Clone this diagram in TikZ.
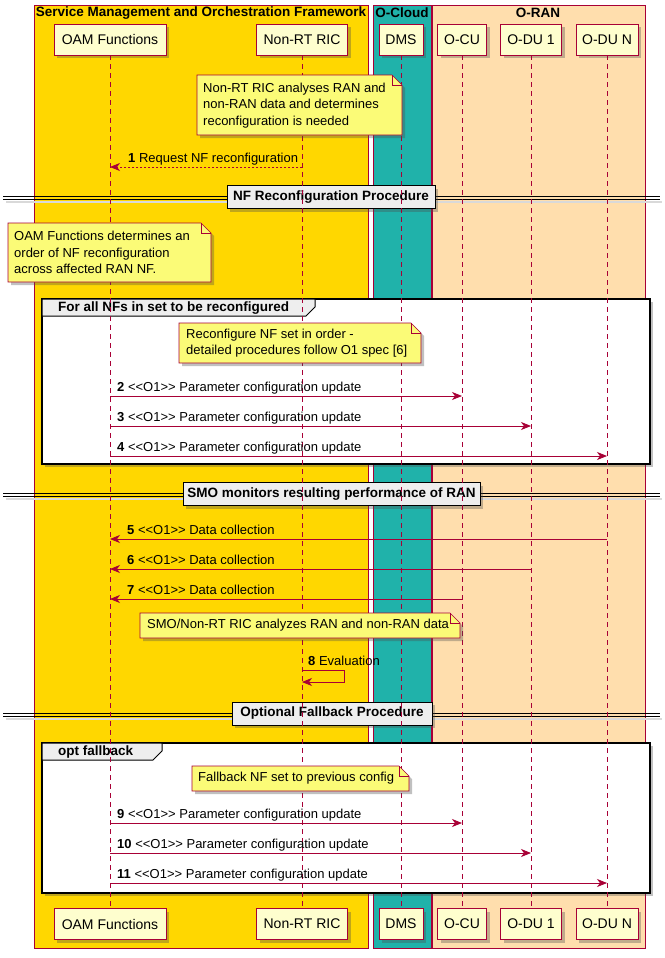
\documentclass[tikz,border=0pt]{standalone}
\usepackage{fontspec}
\setmainfont{Liberation Sans}
\usetikzlibrary{arrows.meta,shadows}
\definecolor{umlred}{HTML}{A80036}
\definecolor{partfill}{HTML}{FEFECE}
\definecolor{notefill}{HTML}{FBFB77}
\definecolor{smofill}{HTML}{FFD700}
\definecolor{cloudfill}{HTML}{20B2AA}
\definecolor{ranfill}{HTML}{FFDEAD}
\definecolor{divfill}{HTML}{EEEEEE}
\newcommand\umlnote[4]{%
 \path[notebody] (#1,#2) -- ({#3-10},#2) -- (#3,{#2+10}) -- (#3,#4) -- (#1,#4) -- cycle;
 \draw[umlred, line width=0.6pt] ({#3-10},#2) -- ({#3-10},{#2+10}) -- (#3,{#2+10});}
\begin{document}
\begin{tikzpicture}[x=1pt,y=-1pt,
 font=\fontsize{13}{16.5}\selectfont,
 shd/.style={drop shadow={shadow xshift=3pt,shadow yshift=-3pt,opacity=0.35,fill=black!70}},
 frame/.style={draw=umlred, line width=0.6pt},
 ttl/.style={font=\fontsize{13.5}{15}\selectfont\bfseries, inner sep=0pt},
 part/.style={draw=umlred, fill=partfill, line width=0.9pt, minimum height=31pt, inner sep=0pt, font=\fontsize{14}{16}\selectfont, shd},
 life/.style={umlred, line width=0.6pt, dash pattern=on 5pt off 4pt},
 notebody/.style={fill=notefill, draw=umlred, line width=0.6pt, shd},
 notetext/.style={anchor=west, align=left, inner sep=0pt},
 msg/.style={umlred, line width=0.8pt, -{Stealth[length=10pt,width=8pt,inset=3pt]}},
 lbl/.style={anchor=base west, inner sep=0pt},
 grp/.style={fill=white, draw=black, line width=1.6pt, shd},
 tab/.style={fill=divfill, draw=black, line width=1pt},
 divbox/.style={fill=divfill, draw=black, line width=1pt, inner sep=0pt, font=\fontsize{13.5}{15}\selectfont\bfseries, shd},
 divline/.style={black, line width=0.9pt}]
\useasboundingbox (0,0) rectangle (664,958);

% frames
\draw[frame, fill=smofill] (34,5) rectangle (368,948);
\draw[frame, fill=cloudfill] (373,5) rectangle (431,948);
\draw[frame, fill=ranfill] (432,5) rectangle (645,948);
\node[ttl] (t1) at (201,13) {Service Management and Orchestration Framework};
\node[ttl] (t2) at (402,13) {O-Cloud};
\node[ttl] (t3) at (538,13) {O-RAN};

% dividers
\draw[black!15, line width=1.5pt] (6,202) -- (662,202);
\draw[divline] (3,196) -- (660,196);
\draw[divline] (3,199.5) -- (660,199.5);
\node[divbox, minimum width=208pt, minimum height=23pt] (d1) at (331,197) {NF Reconfiguration Procedure};

\draw[black!15, line width=1.5pt] (6,499) -- (662,499);
\draw[divline] (3,493) -- (660,493);
\draw[divline] (3,496.5) -- (660,496.5);
\node[divbox, minimum width=297pt, minimum height=23pt] (d2) at (331.5,494) {SMO monitors resulting performance of RAN};

\draw[black!15, line width=1.5pt] (6,719) -- (662,719);
\draw[divline] (3,713) -- (660,713);
\draw[divline] (3,716.5) -- (660,716.5);
\node[divbox, minimum width=200pt, minimum height=23pt] (d3) at (332,713.5) {Optional Fallback Procedure};

% groups
\draw[grp] (42,299) rectangle (650,464);
\draw[tab] (42,299) -- (315,299) -- (315,307) -- (306,316) -- (42,316) -- cycle;
\node[ttl, anchor=west] (g1) at (58,308) {For all NFs in set to be reconfigured};

\draw[grp] (42,743) rectangle (650,893);
\draw[tab] (42,743) -- (162,743) -- (162,751) -- (153,760) -- (42,760) -- cycle;
\node[ttl, anchor=west] (g2) at (58,752) {opt fallback};

% participants
\node[part, minimum width=112pt] (oamT) at (110,39.5) {OAM Functions};
\node[part, minimum width=91pt] (ricT) at (302,39.5) {Non-RT RIC};
\node[part, minimum width=44pt] (dmsT) at (401,39.5) {DMS};
\node[part, minimum width=49pt] (cuT) at (462,39.5) {O-CU};
\node[part, minimum width=61pt] (du1T) at (531,39.5) {O-DU 1};
\node[part, minimum width=62pt] (dunT) at (607,39.5) {O-DU N};
\node[part, minimum width=112pt] (oamB) at (110,924) {OAM Functions};
\node[part, minimum width=91pt] (ricB) at (302,924) {Non-RT RIC};
\node[part, minimum width=44pt] (dmsB) at (401,924) {DMS};
\node[part, minimum width=49pt] (cuB) at (462,924) {O-CU};
\node[part, minimum width=61pt] (du1B) at (531,924) {O-DU 1};
\node[part, minimum width=62pt] (dunB) at (607,924) {O-DU N};

% lifelines
\draw[life] (oamT.south) -- (oamB.north);
\draw[life] (ricT.south) -- (ricB.north);
\draw[life] (dmsT.south) -- (dmsB.north);
\draw[life] (cuT.south) -- (cuB.north);
\draw[life] (du1T.south) -- (du1B.north);
\draw[life] (dunT.south) -- (dunB.north);

% notes
\umlnote{197}{75}{402}{135}
\node[notetext] (n1) at (203,105.5) {Non-RT RIC analyses RAN and\\non-RAN data and determines\\reconfiguration is needed};
\umlnote{8}{223}{211}{282}
\node[notetext] (n2) at (14,252.5) {OAM Functions determines an\\order of NF reconfiguration\\across affected RAN NF.};
\umlnote{179}{323}{421}{363}
\node[notetext] (n3) at (186,343) {Reconfigure NF set in order -\\detailed procedures follow O1 spec [6]};
\umlnote{140}{613}{460}{638}
\node[notetext] (n4) at (147,625.5) {SMO/Non-RT RIC analyzes RAN and non-RAN data};
\umlnote{192}{766}{409}{791}
\node[notetext] (n5) at (198,778.5) {Fallback NF set to previous config};

% message 1
\coordinate (m1a) at (302,167);
\coordinate (m1b) at (110,167);
\draw[msg, dash pattern=on 2pt off 2pt] (m1a) -- (m1b);
\node[lbl] (l1) at (128,162) {\textbf{1} Request NF reconfiguration};

% messages 2-4
\coordinate (m2a) at (110,396); \coordinate (m2b) at (462,396);
\draw[msg] (m2a) -- (m2b);
\node[lbl] (l2) at (117,391) {\textbf{2} <{}<O1>{}> Parameter configuration update};
\coordinate (m3a) at (110,426); \coordinate (m3b) at (531,426);
\draw[msg] (m3a) -- (m3b);
\node[lbl] (l3) at (117,421) {\textbf{3} <{}<O1>{}> Parameter configuration update};
\coordinate (m4a) at (110,456); \coordinate (m4b) at (607,456);
\draw[msg] (m4a) -- (m4b);
\node[lbl] (l4) at (117,451) {\textbf{4} <{}<O1>{}> Parameter configuration update};

% messages 5-7
\coordinate (m5a) at (607,539); \coordinate (m5b) at (110,539);
\draw[msg] (m5a) -- (m5b);
\node[lbl] (l5) at (127,534) {\textbf{5} <{}<O1>{}> Data collection};
\coordinate (m6a) at (531,569); \coordinate (m6b) at (110,569);
\draw[msg] (m6a) -- (m6b);
\node[lbl] (l6) at (127,564) {\textbf{6} <{}<O1>{}> Data collection};
\coordinate (m7a) at (462,599); \coordinate (m7b) at (110,599);
\draw[msg] (m7a) -- (m7b);
\node[lbl] (l7) at (127,594) {\textbf{7} <{}<O1>{}> Data collection};

% message 8 (self)
\coordinate (m8a) at (302,670); \coordinate (m8b) at (344,670);
\coordinate (m8c) at (344,682); \coordinate (m8d) at (302,682);
\draw[msg] (m8a) -- (m8b) -- (m8c) -- (m8d);
\node[lbl] (l8) at (308,665) {\textbf{8} Evaluation};

% messages 9-11
\coordinate (m9a) at (110,823); \coordinate (m9b) at (462,823);
\draw[msg] (m9a) -- (m9b);
\node[lbl] (l9) at (117,818) {\textbf{9} <{}<O1>{}> Parameter configuration update};
\coordinate (m10a) at (110,853); \coordinate (m10b) at (531,853);
\draw[msg] (m10a) -- (m10b);
\node[lbl] (l10) at (117,848) {\textbf{10} <{}<O1>{}> Parameter configuration update};
\coordinate (m11a) at (110,883); \coordinate (m11b) at (607,883);
\draw[msg] (m11a) -- (m11b);
\node[lbl] (l11) at (117,878) {\textbf{11} <{}<O1>{}> Parameter configuration update};
\end{tikzpicture}
\end{document}
